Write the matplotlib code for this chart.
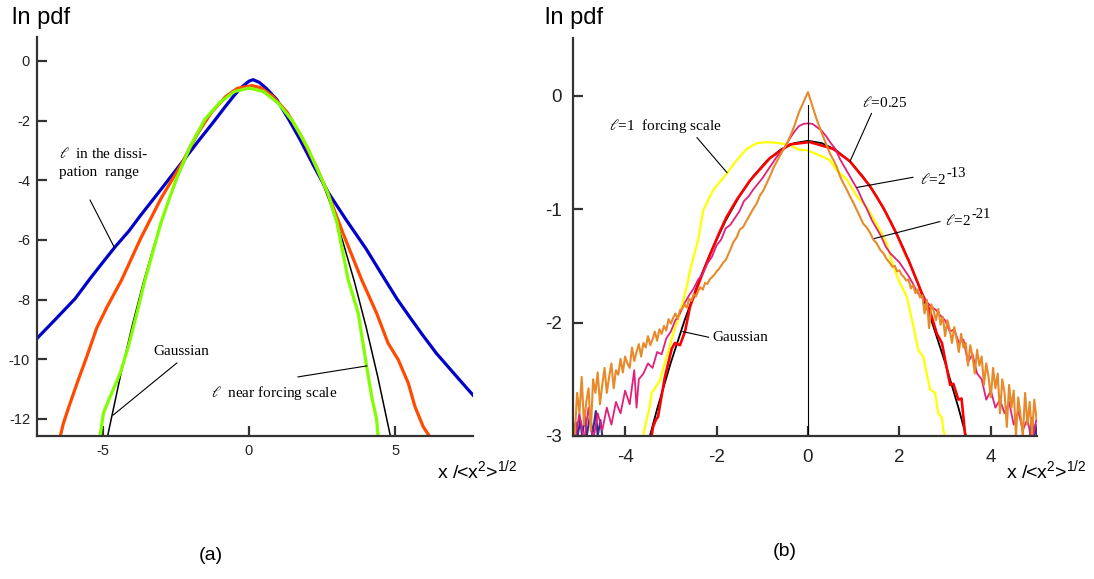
import numpy as np
import matplotlib
matplotlib.use("Agg")
import matplotlib.pyplot as plt

plt.rcParams.update({
    "font.family": ["Liberation Sans", "DejaVu Sans"],
    "axes.unicode_minus": False,
    "mathtext.fontset": "custom",
    "mathtext.rm": "Liberation Sans",
    "mathtext.it": "Liberation Sans",
    "mathtext.bf": "Liberation Sans",
})

SERIF = ["Liberation Serif", "DejaVu Serif"]
AXCOL = "#333333"

# ---- panel (a): ln pdf of increments ----
a_gauss_x = [-5.2, -4.8, -4.4, -4.0, -3.6, -3.2, -2.8, -2.4, -2.0, -1.6, -1.2, -0.8, -0.4, 0.0,
             0.4, 0.8, 1.2, 1.6, 2.0, 2.4, 2.8, 3.2, 3.6, 4.0, 4.4, 4.8, 5.2]
a_gauss_y = [-14.44, -12.44, -10.60, -8.92, -7.40, -6.04, -4.84, -3.80, -2.92, -2.20, -1.64, -1.24, -1.00, -0.92,
             -1.00, -1.24, -1.64, -2.20, -2.92, -3.80, -4.84, -6.04, -7.40, -8.92, -10.60, -12.44, -14.44]

a_diss_x = [-7.24, -6.6, -5.94, -5.43, -5.0, -4.57, -4.1, -3.72, -3.04, -2.29, -1.7, -1.23, -0.8, -0.5, -0.25,
            0.0, 0.14, 0.35, 0.6, 0.95, 1.35, 1.74, 2.2, 2.7, 3.3, 4.0, 4.5, 5.05, 5.5, 5.94, 6.4, 6.8, 7.2, 7.65]
a_diss_y = [-9.3, -8.65, -7.97, -7.3, -6.76, -6.23, -5.7, -5.2, -4.35, -3.4, -2.65, -2.07, -1.52, -1.15, -0.88,
            -0.68, -0.63, -0.72, -0.93, -1.3, -1.95, -2.63, -3.5, -4.4, -5.3, -6.3, -7.1, -7.97, -8.6, -9.2, -9.8,
            -10.25, -10.7, -11.2]

a_mid_x = [-6.45, -6.34, -6.11, -5.83, -5.54, -5.2, -4.85, -4.35, -3.7, -3.0, -2.3, -1.8, -1.3, -0.8, -0.4,
           0.1, 0.4, 0.8, 1.3, 1.8, 2.3, 2.7, 3.2, 3.85, 4.36, 4.75, 5.1, 5.44, 5.67, 5.95, 6.18]
a_mid_y = [-12.6, -12.15, -11.47, -10.69, -9.91, -8.95, -8.25, -7.34, -5.95, -4.6, -3.45, -2.5, -1.75, -1.2, -0.92,
           -0.83, -0.9, -1.18, -1.72, -2.55, -3.55, -4.45, -5.75, -7.34, -8.46, -9.46, -10.02, -10.8, -11.59,
           -12.26, -12.6]

a_force_x = [-5.09, -4.97, -4.74, -4.4, -4.12, -3.83, -3.55, -3.0, -2.5, -2.0, -1.5, -1.0, -0.5, 0.0,
             0.5, 1.0, 1.5, 2.0, 2.5, 2.7, 3.0, 3.39, 3.73, 4.02, 4.19, 4.36, 4.41]
a_force_y = [-12.6, -11.8, -11.25, -10.47, -9.58, -8.46, -7.34, -5.4, -4.0, -2.85, -1.95, -1.4, -1.03, -0.91,
             -1.03, -1.42, -2.03, -2.9, -4.0, -4.45, -5.4, -7.34, -8.46, -10.25, -11.25, -12.03, -12.6]

# ---- panel (b): log10 pdf at several scales ----
b_gauss_x = [-3.6, -3.3, -3.0, -2.7, -2.4, -2.1, -1.8, -1.5, -1.2, -0.9, -0.6, -0.3, 0.0,
             0.3, 0.6, 0.9, 1.2, 1.5, 1.8, 2.1, 2.4, 2.7, 3.0, 3.3, 3.6]
b_gauss_y = [-3.213, -2.763, -2.353, -1.982, -1.649, -1.356, -1.102, -0.887, -0.712, -0.575, -0.477, -0.419, -0.399,
             -0.419, -0.477, -0.575, -0.712, -0.887, -1.102, -1.356, -1.649, -1.982, -2.353, -2.763, -3.213]

b_l025_x = [-3.42, -3.39, -3.33, -3.28, -3.13, -2.98, -2.91, -2.8, -2.69, -2.58, -2.29, -2.14, -1.93, -1.78,
            -1.56, -1.27, -0.83, -0.39, 0.04, 0.55, 0.92, 1.36, 1.65, 1.94, 2.16, 2.2, 2.49, 2.67, 2.82, 2.93,
            3.03, 3.11, 3.18, 3.29, 3.36, 3.44]
b_l025_y = [-3.0, -2.92, -2.86, -2.83, -2.48, -2.23, -2.18, -2.2, -2.08, -1.86, -1.55, -1.40, -1.20, -1.07,
            -0.92, -0.75, -0.55, -0.43, -0.41, -0.47, -0.58, -0.80, -0.99, -1.22, -1.42, -1.45, -1.74, -1.90, -2.1,
            -2.18, -2.39, -2.55, -2.54, -2.68, -2.67, -3.0]

b_l1_x = [-3.6, -3.53, -3.46, -3.42, -3.35, -3.24, -3.09, -2.95, -2.8, -2.65, -2.58, -2.4, -2.29, -2.07,
          -1.78, -1.56, -1.34, -1.12, -0.9, -0.61, -0.39, -0.18, -0.03, 0.33, 0.48, 0.63, 0.85, 1.07, 1.28,
          1.5, 1.72, 1.87, 2.01, 2.16, 2.31, 2.41, 2.52, 2.67, 2.78, 2.85, 2.93, 2.96, 3.0]
b_l1_y = [-2.98, -2.86, -2.74, -2.62, -2.58, -2.51, -2.3, -2.1, -1.92, -1.68, -1.54, -1.27, -1.01, -0.83,
          -0.69, -0.57, -0.47, -0.42, -0.41, -0.42, -0.44, -0.48, -0.48, -0.54, -0.57, -0.66, -0.74, -0.89,
          -0.98, -1.13, -1.30, -1.51, -1.65, -1.77, -2.04, -2.24, -2.30, -2.59, -2.62, -2.8, -2.84, -2.95, -3.0]

b_l13_x = [-5.1, -5.0, -4.9, -4.8, -4.7, -4.6, -4.5, -4.4, -4.3, -4.2, -4.1, -4.0, -3.9, -3.8, -3.75, -3.7,
           -3.6, -3.5, -3.4, -3.3, -3.2, -3.1, -3.0, -2.9, -2.8, -2.7, -2.6, -2.5, -2.4, -2.3, -2.2, -2.1,
           -2.0, -1.9, -1.8, -1.7, -1.6, -1.5, -1.4, -1.3, -1.2, -1.1, -1.0, -0.9, -0.8, -0.7, -0.6, -0.5,
           -0.4, -0.3, -0.2, -0.1, 0.0, 0.1, 0.2, 0.3, 0.4, 0.5, 0.6, 0.7, 0.8, 0.9, 1.0, 1.1, 1.2, 1.3,
           1.4, 1.5, 1.6, 1.7, 1.8, 1.9, 2.0, 2.1, 2.2, 2.3, 2.4, 2.5, 2.6, 2.7, 2.8, 2.9, 3.0, 3.1, 3.2,
           3.3, 3.4, 3.5, 3.6, 3.7, 3.8, 3.9, 4.0, 4.1, 4.2, 4.3, 4.4, 4.5, 4.6, 4.7, 4.8, 4.9, 5.0]
b_l13_y = [-3.05, -2.80, -3.05, -2.75, -3.05, -2.80, -2.95, -2.75, -2.90, -2.70, -2.80, -2.60, -2.72, -2.42,
           -2.75, -2.50, -2.45, -2.36, -2.40, -2.26, -2.28, -2.14, -2.08, -1.98, -1.92, -1.83, -1.76, -1.70,
           -1.62, -1.57, -1.48, -1.42, -1.32, -1.27, -1.17, -1.14, -1.08, -1.02, -0.93, -0.89, -0.83, -0.78,
           -0.73, -0.67, -0.61, -0.55, -0.50, -0.45, -0.38, -0.32, -0.27, -0.25, -0.245, -0.25, -0.28, -0.31,
           -0.36, -0.42, -0.47, -0.56, -0.63, -0.70, -0.77, -0.84, -0.93, -1.01, -1.10, -1.17, -1.24, -1.33,
           -1.39, -1.43, -1.47, -1.53, -1.59, -1.66, -1.74, -1.78, -1.82, -1.86, -1.89, -1.94, -1.98, -2.08,
           -2.06, -2.18, -2.15, -2.35, -2.28, -2.45, -2.50, -2.68, -2.60, -2.75, -2.68, -2.80, -2.70, -2.90,
           -2.78, -2.95, -2.85, -3.05, -2.85]

b_l21_x = [-5.10, -5.05, -5.00, -4.95, -4.90, -4.85, -4.80, -4.75, -4.70, -4.65, -4.60, -4.55, -4.50, -4.45,
           -4.40, -4.35, -4.30, -4.25, -4.20, -4.15, -4.10, -4.05, -4.00, -3.95, -3.90, -3.85, -3.80, -3.75,
           -3.70, -3.65, -3.60, -3.55, -3.50, -3.45, -3.40, -3.35, -3.30, -3.25, -3.20, -3.15, -3.10, -3.05,
           -3.00, -2.95, -2.90, -2.85, -2.80, -2.75, -2.70, -2.65, -2.60, -2.55, -2.50, -2.45, -2.40, -2.35,
           -2.30, -2.25, -2.20, -2.15, -2.10, -2.05, -2.00, -1.95, -1.90, -1.85, -1.80,
           -1.70, -1.63, -1.56, -1.49, -1.42, -1.34, -1.27, -1.20, -1.12, -1.05, -0.98, -0.90, -0.83, -0.76,
           -0.68, -0.60, -0.53, -0.46, -0.39, -0.30, -0.20, -0.10, 0.00, 0.08, 0.19, 0.33, 0.40, 0.48, 0.56,
           0.63, 0.70, 0.77, 0.85, 0.92, 1.00, 1.07, 1.14, 1.21, 1.28, 1.36, 1.43, 1.50, 1.58, 1.65, 1.72,
           1.80, 1.85, 1.90, 1.95, 2.00, 2.05, 2.10, 2.15, 2.20, 2.25, 2.30, 2.35, 2.40, 2.45, 2.50, 2.55,
           2.60, 2.65, 2.70, 2.75, 2.80, 2.85, 2.90, 2.95, 3.00, 3.05, 3.10, 3.15, 3.20, 3.25, 3.30, 3.35,
           3.40, 3.45, 3.50, 3.55, 3.60, 3.65, 3.70, 3.75, 3.80, 3.85, 3.90, 3.95, 4.00, 4.05, 4.10, 4.15,
           4.20, 4.25, 4.30, 4.35, 4.40, 4.45, 4.50, 4.55, 4.60, 4.65, 4.70, 4.75, 4.80, 4.85, 4.90, 4.95, 5.00]
b_l21_y = [-2.98, -2.62, -2.80, -2.48, -2.90, -2.70, -2.58, -2.95, -2.50, -2.62, -2.44, -2.72, -2.55, -2.40,
           -2.62, -2.48, -2.36, -2.58, -2.42, -2.46, -2.32, -2.44, -2.30, -2.36, -2.40, -2.22, -2.34, -2.26,
           -2.19, -2.30, -2.18, -2.22, -2.12, -2.20, -2.15, -2.08, -2.16, -2.06, -2.10, -2.03, -2.07, -1.97,
           -2.01, -1.96, -1.92, -1.97, -1.89, -1.88, -1.84, -1.87, -1.79, -1.81, -1.75, -1.77, -1.72, -1.69,
           -1.71, -1.65, -1.66, -1.62, -1.60, -1.58, -1.55, -1.53, -1.50, -1.47, -1.45,
           -1.36, -1.29, -1.25, -1.18, -1.16, -1.10, -1.05, -1.00, -0.95, -0.88, -0.84, -0.77, -0.71, -0.64,
           -0.58, -0.52, -0.47, -0.42, -0.36, -0.27, -0.15, -0.06, 0.03, -0.07, -0.21, -0.36, -0.43, -0.51,
           -0.57, -0.63, -0.71, -0.77, -0.83, -0.89, -0.95, -1.01, -1.07, -1.13, -1.16, -1.21, -1.27, -1.30,
           -1.36, -1.39, -1.44, -1.48, -1.51, -1.50, -1.55, -1.54, -1.58, -1.60, -1.63, -1.62, -1.70, -1.67,
           -1.74, -1.71, -1.78, -1.76, -1.92, -1.80, -2.05, -1.84, -1.90, -1.98, -1.88, -2.02, -1.95, -2.12,
           -1.98, -2.06, -2.18, -2.04, -2.14, -2.26, -2.10, -2.22, -2.18, -2.38, -2.20, -2.30, -2.45, -2.24,
           -2.38, -2.30, -2.55, -2.36, -2.48, -2.66, -2.40, -2.58, -2.45, -2.80, -2.50, -2.62, -2.92, -2.55,
           -2.75, -2.60, -3.00, -2.66, -2.82, -3.00, -2.62, -2.90, -2.70, -3.00, -2.68, -2.85]

b_deep_left_x = [-5.12, -5.08, -5.04, -4.98, -4.94, -4.88, -4.84, -4.76, -4.72, -4.64, -4.6, -4.54, -4.5]
b_deep_left_y = [-3.0, -2.88, -3.0, -2.86, -3.0, -2.82, -3.0, -2.8, -3.0, -2.78, -3.0, -2.86, -3.0]
b_deep_right_x = [4.86, 4.9, 4.94, 4.98, 5.0]
b_deep_right_y = [-3.0, -2.84, -3.0, -2.9, -3.0]


def style_axes(ax, fs, lpad, bpad):
    for s in ("top", "right"):
        ax.spines[s].set_visible(False)
    for s in ("left", "bottom"):
        ax.spines[s].set_color(AXCOL)
        ax.spines[s].set_linewidth(1.6)
    ax.tick_params(direction="in", length=7.5, width=1.6, color=AXCOL,
                   labelsize=fs, labelcolor="#222222")
    ax.tick_params(axis="y", pad=lpad)
    ax.tick_params(axis="x", pad=bpad)


def leader(ax, p0, p1):
    ax.annotate("", xy=p1, xytext=p0,
                arrowprops=dict(arrowstyle="-", lw=0.8, color="black",
                                shrinkA=0, shrinkB=0))


def power_label(ax, x, y, power):
    base = ax.text(x, y, r"$\ell$=2", family=SERIF, math_fontfamily="stix",
                   fontsize=11, va="center", ha="left")
    ax.annotate(power, xy=(1.0, 0.45), xycoords=base, family=SERIF,
                fontsize=10.5, va="bottom", ha="left")


fig = plt.figure(figsize=(10.94, 5.79), dpi=100)

# panel (a)
ax1 = fig.add_axes([37 / 1094, 1 - 436 / 579, 436 / 1094, 399 / 579])
ax1.plot(a_gauss_x, a_gauss_y, color="black", lw=1.1)
ax1.plot(a_diss_x, a_diss_y, color="#0000c8", lw=2.3)
ax1.plot(a_mid_x, a_mid_y, color="#ff4a00", lw=2.3)
ax1.plot(a_force_x, a_force_y, color="#80ff00", lw=2.3)
ax1.set_xlim(-7.24, 7.65)
ax1.set_ylim(-12.57, 0.8)
ax1.set_xticks([-5, 0, 5])
ax1.set_yticks([0, -2, -4, -6, -8, -10, -12])
style_axes(ax1, 10.5, 5, 6)

ax1.text(-6.48, -3.85, r"$\ell$  in the dissi-" + "\npation  range", family=SERIF,
         math_fontfamily="stix", fontsize=11, va="baseline", ha="left", linespacing=1.45)
leader(ax1, (-5.43, -4.66), (-4.6, -6.25))
ax1.text(-3.28, -9.75, "Gaussian", family=SERIF, fontsize=11, va="center", ha="left")
leader(ax1, (-2.46, -10.12), (-4.64, -11.87))
ax1.text(-1.3, -11.13, r"$\ell$  near forcing scale", family=SERIF, math_fontfamily="stix",
         fontsize=11, va="center", ha="left")
leader(ax1, (1.67, -10.59), (4.03, -10.22))

# panel (b)
ax2 = fig.add_axes([573 / 1094, 1 - 436 / 579, 464 / 1094, 398 / 579])
ax2.plot(b_deep_left_x, b_deep_left_y, color="#3a2a8c", lw=1.5)
ax2.plot(b_deep_right_x, b_deep_right_y, color="#3a2a8c", lw=1.5)
ax2.plot(b_l1_x, b_l1_y, color="#ffff00", lw=1.6)
ax2.plot(b_gauss_x, b_gauss_y, color="black", lw=1.3)
ax2.plot(b_l025_x, b_l025_y, color="#ff0000", lw=1.9)
ax2.plot(b_l13_x, b_l13_y, color="#e0207a", lw=1.3)
ax2.plot(b_l21_x, b_l21_y, color="#e8892a", lw=1.5)
ax2.plot([0, 0], [-3, -0.08], color="black", lw=0.8)
ax2.set_xlim(-5.14, 5.01)
ax2.set_ylim(-3, 0.507)
ax2.set_xticks([-4, -2, 0, 2, 4])
ax2.set_yticks([0, -1, -2, -3])
style_axes(ax2, 13.5, 8, 9)

ax2.text(-4.36, -0.27, r"$\ell$=1  forcing scale", family=SERIF, math_fontfamily="stix",
         fontsize=11, va="center", ha="left")
leader(ax2, (-2.43, -0.37), (-1.77, -0.68))
ax2.text(1.18, -0.06, r"$\ell$=0.25", family=SERIF, math_fontfamily="stix",
         fontsize=11, va="center", ha="left")
leader(ax2, (1.39, -0.157), (0.92, -0.58))
power_label(ax2, 2.45, -0.74, "-13")
leader(ax2, (2.3, -0.72), (1.07, -0.81))
power_label(ax2, 3.0, -1.1, "-21")
leader(ax2, (2.89, -1.11), (1.45, -1.26))
ax2.text(-2.1, -2.13, "Gaussian", family=SERIF, fontsize=11, va="center", ha="left")
leader(ax2, (-2.17, -2.13), (-2.74, -2.08))

# axis titles and panel tags
xlab = r"x /<x$^{2}$>$^{1/2}$"
fig.text(12 / 1094, 1 - 18 / 579, "ln pdf", fontsize=17, va="center", ha="left")
fig.text(545 / 1094, 1 - 18 / 579, "ln pdf", fontsize=17, va="center", ha="left")
fig.text(437 / 1094, 1 - 478 / 579, xlab, fontsize=14, va="baseline", ha="left")
fig.text(1006 / 1094, 1 - 478 / 579, xlab, fontsize=14, va="baseline", ha="left")
fig.text(211 / 1094, 1 - 556 / 579, "(a)", fontsize=14, va="center", ha="center")
fig.text(785 / 1094, 1 - 552 / 579, "(b)", fontsize=14, va="center", ha="center")

fig.savefig("out.png", dpi=100, facecolor="white")
